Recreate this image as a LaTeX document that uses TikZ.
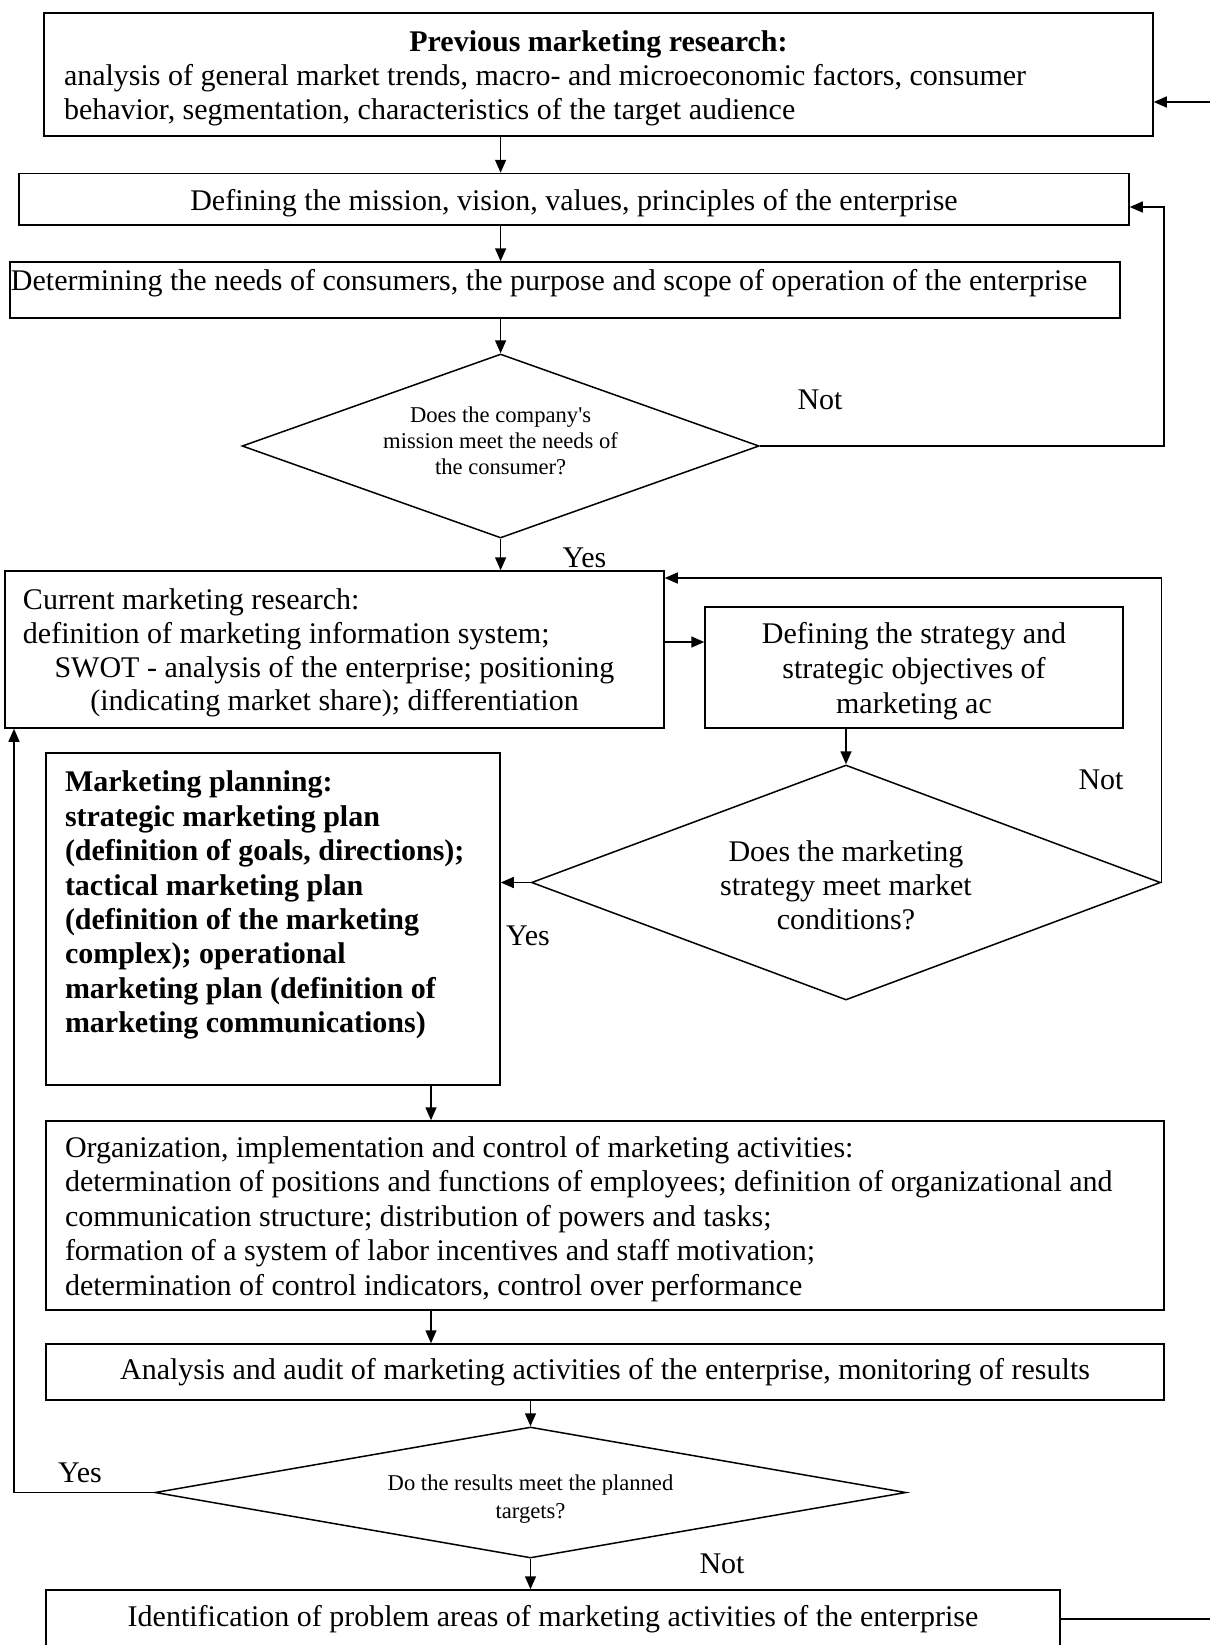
\documentclass[tikz,border=0pt]{standalone}
\usepackage{fontspec}
\setmainfont{Liberation Serif}
\usetikzlibrary{shapes.geometric,arrows.meta}

\begin{document}
\begin{tikzpicture}[x=0.5pt,y=-0.5pt]
\tikzstyle{box}=[draw,line width=0.75pt,inner sep=0pt,font=\fontsize{15}{17.2}\selectfont]
\tikzstyle{check}=[draw,diamond,line width=0.75pt,inner sep=0pt,align=flush center,text height=0pt]
\tikzstyle{lbl}=[inner sep=0pt,font=\fontsize{15}{17.2}\selectfont]
\tikzstyle{arr}=[line width=0.75pt,-{Triangle[length=6.5pt,width=5.5pt]}]
\clip (0,0) rectangle (1210,1645);

\path (598.5,74.5) node[box,minimum width=554.5pt,text width=534.5pt,text height=19.45pt,text depth=42.05pt,align=flush left,font=\fontsize{15}{16.8}\selectfont](prevres){\makebox[534.5pt]{\bfseries Previous marketing research:}\\ analysis of general market trends, macro- and microeconomic factors, consumer\\ behavior, segmentation, characteristics of the target audience};
\path (574,199.25) node[box,minimum width=555pt,text height=18.25pt,text depth=7.5pt](mission){Defining the mission, vision, values, principles of the enterprise};
\path (565,290) node[box,minimum width=555pt,text height=14.1pt,text depth=13.9pt](needs){\makebox[555pt][l]{\hspace{0.5pt}Determining the needs of consumers, the purpose and scope of operation of the enterprise}};
\path (500.6,446) node[check,aspect=2.8,minimum width=258.5pt,minimum height=92pt,text width=150pt,text depth=24pt,font=\fontsize{11.3}{13.1}\selectfont](needchk){Does the company\textquotesingle s\\ mission meet the needs of\\ the consumer?};

\path (334.5,649.5) node[box,minimum width=329.5pt,text width=311.5pt,text height=19.1pt,text depth=59.4pt,align=flush center,font=\fontsize{15}{16.95}\selectfont](curres){\makebox[311.5pt][l]{Current marketing research:}\\ \makebox[311.5pt][l]{definition of marketing information system;}\\ SWOT - analysis of the enterprise; positioning\\ (indicating market share); differentiation};
\path (914,667.5) node[box,minimum width=209pt,text width=200pt,text height=18.4pt,text depth=42.1pt,align=flush center,font=\fontsize{15}{17.3}\selectfont](strat){Defining the strategy and\\ strategic objectives of\\ marketing ac};
\path (846,882.5) node[check,aspect=2.68,minimum width=314.5pt,minimum height=117.5pt,text width=150pt,text depth=21.5pt,font=\fontsize{15}{17.05}\selectfont](stratchk){Does the marketing\\ strategy meet market\\ conditions?};
\path (273,919) node[box,minimum width=227pt,minimum height=166pt,text width=208pt,align=flush left,font=\bfseries\fontsize{15}{17.2}\selectfont](plan){Marketing planning:\\ strategic marketing plan\\ (definition of goals, directions);\\ tactical marketing plan\\ (definition of the marketing\\ complex); operational\\ marketing plan (definition of\\ marketing communications)\\ \mbox{}};

\path (605,1215.5) node[box,minimum width=559pt,text width=540pt,text height=18pt,text depth=76.5pt,align=flush left,font=\fontsize{15}{17.3}\selectfont](org){Organization, implementation and control of marketing activities:\\ determination of positions and functions of employees; definition of organizational and\\ communication structure; distribution of powers and tasks;\\ formation of a system of labor incentives and staff motivation;\\ determination of control indicators, control over performance};
\path (605,1372) node[box,minimum width=559pt,minimum height=28pt](audit){Analysis and audit of marketing activities of the enterprise, monitoring of results};
\path (530.5,1492.5) node[check,aspect=5.73,minimum width=375.5pt,minimum height=65.5pt,text width=170pt,text depth=2.2pt,font=\fontsize{11.3}{14.2}\selectfont](reschk){Do the results meet the planned\\ targets?};
\path (553,1619) node[box,minimum width=507pt,minimum height=29pt](problem){Identification of problem areas of marketing activities of the enterprise};

\path (820,400) node[lbl](notA){Not} (584.5,558) node[lbl](yesA){Yes};
\path (1101,780) node[lbl](notB){Not} (528,936) node[lbl](yesB){Yes};
\path (80,1473) node[lbl](yesC){Yes} (722,1564) node[lbl](notC){Not};

\coordinate (inprev) at (1210,102);
\coordinate (loopa) at (1164,207);
\coordinate (feedy) at (0,642);
\coordinate (loopb) at (1162,578);
\coordinate (planx) at (431,0);
\coordinate (loopc) at (14,0);
\coordinate (outprob) at (1210,1619);

\draw[arr] (inprev) -- (prevres.east |- inprev);
\draw[arr] (prevres.south -| needchk.north) -- (mission.north -| needchk.north);
\draw[arr] (mission.south -| needchk.north) -- (needs.north -| needchk.north);
\draw[arr] (needs.south -| needchk.north) -- (needchk.north);
\draw[arr] (needchk.east) -| (loopa) -- (mission.east |- loopa);
\draw[arr] (needchk.south) -- (curres.north -| needchk.south);
\draw[arr] (curres.east |- feedy) -- (strat.west |- feedy);
\draw[arr] (strat.south -| stratchk.north) -- (stratchk.north);
\draw[arr] (stratchk.east) |- (curres.east |- loopb);
\draw[arr] (stratchk.west) -- (plan.east |- stratchk.west);
\draw[arr] (plan.south -| planx) -- (org.north -| planx);
\draw[arr] (org.south -| planx) -- (audit.north -| planx);
\draw[arr] (audit.south -| reschk.north) -- (reschk.north);
\draw[arr] (reschk.west) -| (curres.south -| loopc);
\draw[arr] (reschk.south) -- (problem.north -| reschk.south);
\draw[line width=0.75pt] (problem.east) -- (outprob);
\end{tikzpicture}
\end{document}
